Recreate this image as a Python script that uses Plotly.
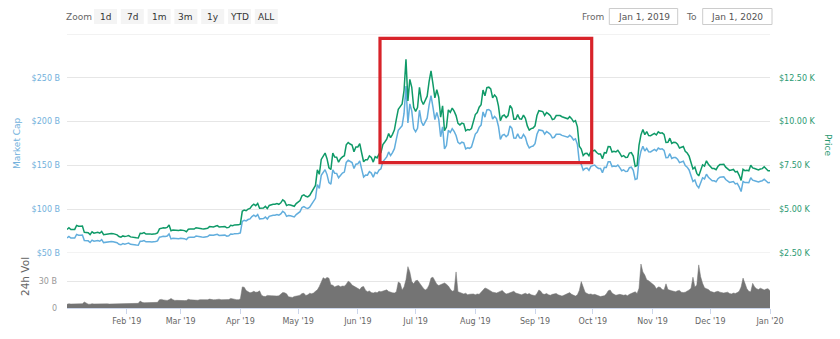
import pandas as pd
import plotly.graph_objects as go

# ---------------- data ----------------
start_date = "2019-01-01"

# BTC price, thousands of USD (daily, Jan 1 2019 .. Jan 1 2020)
price_k = [
    3.843, 3.943, 3.837, 3.858, 3.845, 4.076, 4.026, 4.030, 4.035, 3.678, 3.687, 3.661, 3.552, 3.706, 3.630, 3.655,
    3.679, 3.629, 3.732, 3.546, 3.566, 3.616, 3.595, 3.617, 3.605, 3.589, 3.536, 3.437, 3.400, 3.474, 3.440,
    3.463, 3.497, 3.420, 3.411, 3.422, 3.371, 3.359, 3.625, 3.618, 3.667, 3.582, 3.602, 3.591, 3.567, 3.575, 3.601,
    3.642, 3.880, 3.907, 3.944, 3.925, 3.957, 4.100, 3.772, 3.808, 3.793, 3.803, 3.788,
    3.808, 3.809, 3.777, 3.716, 3.858, 3.867, 3.875, 3.864, 3.943, 3.916, 3.872, 3.881, 3.868, 3.875, 3.915, 4.008,
    3.982, 3.991, 4.025, 4.064, 3.989, 4.003, 4.012, 4.006, 3.939, 3.960, 4.080, 4.054, 4.104, 4.097, 4.106,
    4.143, 4.881, 4.955, 4.911, 5.004, 5.044, 5.196, 5.287, 5.201, 5.333, 5.050, 5.078, 5.069, 5.161, 5.036, 5.214,
    5.266, 5.285, 5.284, 5.322, 5.280, 5.365, 5.532, 5.448, 5.205, 5.258, 5.244, 5.221, 5.168, 5.322,
    5.394, 5.494, 5.763, 5.819, 5.737, 5.699, 5.786, 5.952, 6.171, 6.356, 7.248, 6.993, 7.842, 7.992, 8.205, 7.885,
    7.366, 7.263, 8.197, 7.978, 7.963, 7.681, 7.882, 7.988, 8.052, 8.674, 8.806, 8.720, 8.660, 8.278, 8.555,
    8.554, 8.742, 8.208, 7.708, 7.825, 7.822, 8.043, 7.955, 7.688, 8.000, 7.928, 8.145, 8.231, 8.693, 8.839, 8.994,
    9.320, 9.082, 9.273, 9.527, 10.145, 10.702, 10.855, 11.011, 11.790, 13.550, 11.182, 12.407, 11.960, 10.818,
    10.583, 10.802, 11.961, 11.215, 10.978, 11.208, 11.451, 12.285, 12.900, 12.157, 11.358, 11.815, 11.392, 10.256,
    10.895, 9.477, 9.693, 10.666, 10.530, 10.767, 10.599, 10.343, 9.900, 9.811, 9.911, 9.870, 9.477, 9.552, 9.519,
    9.607, 10.085,
    10.400, 10.519, 10.821, 10.970, 11.805, 11.478, 11.941, 11.966, 11.863, 11.354, 11.523, 11.382, 10.895, 10.051,
    10.311, 10.374, 10.231, 10.345, 10.918, 10.764, 10.138, 10.131, 10.407, 10.160, 10.139, 10.370, 10.185, 9.754,
    9.510, 9.599, 9.630,
    9.757, 10.347, 10.624, 10.594, 10.575, 10.353, 10.517, 10.441, 10.334, 10.116, 10.157, 10.346, 10.358, 10.347,
    10.277, 10.241, 10.199, 10.160, 10.280, 10.171, 9.988, 10.054, 9.702, 8.590, 8.431, 8.063, 8.178, 8.192, 8.054,
    8.307,
    8.324, 8.365, 8.232, 8.147, 8.148, 7.883, 8.226, 8.208, 8.573, 8.571, 8.268, 8.305, 8.270, 8.364, 8.196, 8.005,
    8.062, 7.956, 7.964, 8.205, 8.230, 8.031, 7.446, 7.495, 8.661, 9.244, 9.552, 9.256, 9.428, 9.206, 9.199,
    9.261, 9.324, 9.235, 9.412, 9.342, 9.360, 9.267, 8.804, 8.813, 9.055, 8.757, 8.815, 8.808, 8.708, 8.491, 8.550,
    8.577, 8.309, 8.206, 8.027, 7.642, 7.296, 7.397, 7.047, 6.900, 7.219, 7.531, 7.463, 7.761, 7.569,
    7.424, 7.321, 7.320, 7.252, 7.448, 7.547, 7.556, 7.564, 7.400, 7.278, 7.217, 7.243, 7.269, 7.124, 7.152, 6.932,
    6.640, 7.276, 7.202, 7.218, 7.191, 7.511, 7.355, 7.322, 7.275, 7.238, 7.290, 7.317, 7.422, 7.293, 7.193,
    7.200,
]

# Market cap, billions of USD
market_cap_b = [
    67.1, 68.8, 67.0, 67.4, 67.1, 71.2, 70.3, 70.4, 70.5, 64.2, 64.4, 63.9, 62.0, 64.7, 63.4, 63.8,
    64.2, 63.4, 65.2, 61.9, 62.3, 63.1, 62.8, 63.2, 62.9, 62.7, 61.7, 60.0, 59.4, 60.7, 60.1,
    60.7, 61.3, 59.9, 59.8, 60.0, 59.1, 58.9, 63.5, 63.4, 64.2, 62.8, 63.1, 62.9, 62.5, 62.6, 63.1,
    63.8, 68.0, 68.5, 69.1, 68.8, 69.3, 71.8, 66.1, 66.7, 66.5, 66.6, 66.4,
    66.9, 67.0, 66.4, 65.3, 67.8, 68.0, 68.1, 67.9, 69.3, 68.8, 68.1, 68.2, 68.0, 68.1, 68.8, 70.5,
    70.0, 70.2, 70.8, 71.4, 70.1, 70.4, 70.5, 70.4, 69.2, 69.6, 71.7, 71.3, 72.1, 72.0, 72.2,
    73.0, 86.1, 87.4, 86.6, 88.2, 88.9, 91.6, 93.2, 91.7, 94.0, 89.0, 89.5, 89.4, 91.0, 88.8, 91.9,
    92.8, 93.2, 93.2, 93.8, 93.1, 94.6, 97.5, 96.0, 91.8, 92.7, 92.5, 92.0, 91.1, 93.8,
    95.4, 97.2, 101.9, 102.9, 101.5, 100.8, 102.4, 105.3, 109.2, 112.4, 128.2, 123.7, 138.7, 141.4, 145.1, 139.5,
    130.3, 128.5, 145.0, 141.1, 140.9, 135.9, 139.4, 141.3, 142.4, 153.4, 155.8, 154.3, 153.2, 146.4, 151.3,
    151.8, 155.2, 145.7, 136.8, 138.9, 138.8, 142.8, 141.2, 136.5, 142.0, 140.7, 144.6, 146.1, 154.3, 156.9, 159.6,
    165.4, 161.2, 164.6, 169.1, 180.1, 190.0, 192.7, 195.4, 209.3, 240.5, 198.5, 220.2, 212.3, 192.0,
    188.5, 192.4, 213.0, 199.7, 195.5, 199.6, 203.9, 218.8, 229.7, 216.5, 202.3, 210.4, 202.9, 182.7,
    194.0, 168.8, 172.6, 190.0, 187.5, 191.8, 188.8, 184.2, 176.3, 174.7, 176.5, 175.8, 168.8, 170.1, 169.5,
    171.1, 179.6,
    185.8, 188.0, 193.4, 196.0, 211.0, 205.1, 213.4, 213.8, 212.0, 202.9, 205.9, 203.4, 194.7, 179.6,
    184.3, 185.4, 182.8, 184.9, 195.1, 192.4, 181.2, 181.0, 186.0, 181.6, 181.2, 185.3, 182.0, 174.3,
    169.9, 171.5, 172.1,
    174.9, 185.5, 190.5, 189.9, 189.6, 185.6, 188.6, 187.2, 185.3, 181.4, 182.1, 185.5, 185.7, 185.5,
    184.3, 183.6, 182.9, 182.2, 184.3, 182.4, 179.1, 180.3, 174.0, 154.0, 151.2, 144.6, 146.6, 146.9, 144.4,
    148.9,
    149.7, 150.4, 148.0, 146.5, 146.5, 141.7, 147.9, 147.6, 154.1, 154.1, 148.7, 149.3, 148.7, 150.4, 147.4, 143.9,
    145.0, 143.0, 143.2, 147.5, 148.0, 144.4, 133.9, 134.8, 155.7, 166.2, 171.7, 166.4, 169.5, 165.5, 165.4,
    167.1, 168.2, 166.6, 169.8, 168.5, 168.9, 167.2, 158.8, 159.0, 163.4, 158.0, 159.0, 158.9, 157.1, 153.2, 154.2,
    154.7, 149.9, 148.0, 144.8, 137.9, 131.6, 133.4, 127.1, 124.5, 130.2, 135.9, 134.6, 140.0, 136.5,
    134.4, 132.5, 132.5, 131.3, 134.8, 136.6, 136.8, 136.9, 133.9, 131.7, 130.6, 131.1, 131.6, 128.9, 129.5, 125.5,
    120.2, 131.7, 130.4, 130.6, 130.2, 135.9, 133.1, 132.5, 131.7, 131.0, 131.9, 132.4, 134.3, 132.0, 130.2,
    130.5,
]

# 24h volume, billions of USD
volume_b = [
    4.2, 4.8, 4.5, 4.6, 4.3, 5.0, 5.2, 4.8, 4.9, 6.8, 5.6, 4.4, 4.3, 4.9, 4.6, 4.7,
    4.6, 4.5, 4.8, 4.9, 4.4, 4.7, 4.5, 4.6, 4.4, 4.3, 4.4, 5.0, 5.1, 5.0, 4.9,
    5.0, 5.2, 5.0, 5.1, 5.2, 5.6, 5.3, 7.9, 6.4, 6.0, 6.1, 6.0, 6.1, 6.0, 6.2, 6.3,
    6.4, 9.4, 9.8, 9.2, 8.9, 8.6, 9.4, 10.9, 9.5, 8.6, 8.7, 8.5,
    8.6, 8.1, 8.4, 8.6, 9.9, 9.3, 9.0, 9.3, 8.9, 8.8, 9.5, 9.4, 9.2, 9.0, 9.4, 10.1,
    9.6, 9.3, 9.5, 9.9, 10.0, 9.4, 9.3, 9.2, 9.9, 9.6, 10.9, 10.2, 9.9, 9.5, 9.4,
    10.2, 24.0, 23.6, 20.0, 18.5, 17.2, 17.8, 19.0, 17.9, 18.2, 19.5, 14.5, 13.3, 13.0, 14.3, 13.8,
    14.0, 13.8, 13.5, 13.6, 13.9, 15.6, 17.6, 17.3, 16.1, 12.8, 12.4, 12.0, 13.1, 13.2,
    13.9, 14.6, 16.4, 16.8, 14.2, 15.0, 16.8, 16.2, 17.0, 19.0, 20.6, 24.5, 30.5, 34.5, 33.0, 34.8,
    33.9, 26.5, 25.8, 24.0, 25.0, 25.5, 24.2, 25.0, 24.8, 27.0, 30.5, 29.0, 26.0, 24.5, 24.0,
    22.5, 21.0, 23.8, 24.5, 20.2, 18.5, 19.4, 17.5, 17.0, 18.0, 17.3, 19.0, 18.5, 19.5, 20.0, 20.6,
    18.8, 17.6, 17.3, 17.0, 18.5, 29.5, 28.0, 20.5, 24.0, 32.0, 47.0, 41.0, 30.0, 27.5,
    31.0, 31.5, 28.0, 25.0, 22.5, 20.5, 22.0, 26.0, 34.0, 35.0, 30.0, 27.0, 25.5, 26.5, 28.0, 28.5,
    27.0, 25.0, 21.5, 19.0, 20.0, 41.0, 18.5, 17.5, 16.5, 16.0, 16.8, 15.0, 15.6, 16.2, 16.0,
    15.0, 16.0, 15.5, 18.0, 21.5, 22.8, 22.0, 20.5, 19.8, 18.0, 17.5, 17.0, 18.0, 19.5, 20.0, 17.5,
    16.0, 16.5, 17.5, 18.5, 19.0, 17.0, 16.5, 15.2, 15.0, 16.0, 16.8, 15.5, 16.5, 15.0, 14.5,
    14.0, 16.5, 20.5, 19.0, 16.0, 15.5, 16.5, 15.0, 14.5, 15.5, 16.0, 16.5, 15.0, 14.0, 13.5, 14.5,
    15.5, 16.0, 17.5, 15.5, 14.0, 13.5, 15.0, 20.0, 30.0, 22.5, 18.0, 16.5, 15.5, 16.0,
    15.0, 15.5, 14.5, 13.5, 13.0, 13.5, 14.0, 16.0, 19.5, 20.5, 17.0, 15.5, 14.5, 15.0, 15.5, 15.0,
    14.5, 15.0, 14.0, 15.5, 16.5, 17.0, 18.5, 16.5, 22.5, 50.0, 41.0, 37.5, 32.0, 31.0, 29.0,
    28.0, 25.5, 22.0, 24.0, 23.5, 21.0, 20.5, 27.5, 21.0, 20.0, 19.5, 19.0, 18.5, 19.5, 20.0, 18.0,
    17.5, 18.0, 19.0, 20.5, 22.5, 35.0, 24.0, 26.0, 49.0, 35.5, 28.0, 23.0, 22.0, 21.0,
    19.0, 18.0, 17.5, 18.5, 19.0, 18.0, 17.5, 17.0, 17.5, 18.0, 16.5, 16.0, 17.0, 16.5, 17.5, 19.0,
    24.0, 34.0, 28.0, 22.0, 19.0, 18.5, 28.0, 24.0, 22.0, 21.0, 22.5, 21.0, 20.5, 21.5, 22.0,
    19.5,
]

month_ticks = ["2019-02-01", "2019-03-01", "2019-04-01", "2019-05-01", "2019-06-01", "2019-07-01",
               "2019-08-01", "2019-09-01", "2019-10-01", "2019-11-01", "2019-12-01", "2020-01-01"]
month_labels = ["Feb '19", "Mar '19", "Apr '19", "May '19", "Jun '19", "Jul '19",
                "Aug '19", "Sep '19", "Oct '19", "Nov '19", "Dec '19", "Jan '20"]

cap_ticks = [50, 100, 150, 200, 250, 300]
cap_labels = ["$50 B", "$100 B", "$150 B", "$200 B", "$250 B", ""]
price_ticks = [2.5, 5, 7.5, 10, 12.5]
price_labels = ["$2.50 K", "$5.00 K", "$7.50 K", "$10.00 K", "$12.50 K"]
vol_ticks = [0, 30]
vol_labels = ["0", "30 B"]

zoom_buttons = ["1d", "7d", "1m", "3m", "1y", "YTD", "ALL"]
date_from, date_to = "Jan 1, 2019", "Jan 1, 2020"

assert len(price_k) == len(market_cap_b) == len(volume_b) == 366, (len(price_k), len(market_cap_b), len(volume_b))
dates = pd.date_range(start_date, periods=len(price_k), freq="D")

# ---------------- layout helpers ----------------
W, H = 840, 339
ML, MR, MT, MB = 67, 70, 34, 31
PW, PH = W - ML - MR, H - MT - MB


def fx(px):
    return (px - ML) / PW


def fy(py):
    return (H - MB - py) / PH


split = fy(253)
FONT = "DejaVu Sans"
BLUE = "#62aedd"
BLUE_TXT = "#72b1dc"
GREEN = "#0f9a68"
GREEN_TXT = "#2a9a72"
GRAY = "#747474"
GRID = "#e6e6e6"

fig = go.Figure()
fig.add_trace(go.Scatter(x=dates, y=market_cap_b, mode="lines", yaxis="y",
                         line=dict(color=BLUE, width=1.5), name="Market Cap"))
fig.add_trace(go.Scatter(x=dates, y=price_k, mode="lines", yaxis="y2",
                         line=dict(color=GREEN, width=1.5), name="Price"))
fig.add_trace(go.Scatter(x=dates, y=volume_b, mode="lines", yaxis="y3", fill="tozeroy",
                         fillcolor=GRAY, line=dict(color=GRAY, width=0.5), name="24h Vol"))

fig.update_layout(
    width=W, height=H,
    margin=dict(l=ML, r=MR, t=MT, b=MB, autoexpand=False),
    paper_bgcolor="white", plot_bgcolor="white",
    showlegend=False,
    font=dict(family=FONT, size=8, color="#666666"),
    xaxis=dict(domain=[0, 1], anchor="y3", range=[dates[0], dates[-1]],
               tickvals=month_ticks, ticktext=month_labels,
               ticks="outside", ticklen=5, tickcolor="#ccd6eb", tickwidth=1,
               showgrid=False, showline=True, linecolor="#ccd6eb", zeroline=False,
               tickfont=dict(size=8, color="#666666")),
    yaxis=dict(domain=[split, 1], anchor="x", range=[50, 300],
               tickvals=cap_ticks, ticktext=cap_labels,
               gridcolor=GRID, zeroline=False, showline=False,
               ticklabelstandoff=6, tickfont=dict(size=8, color=BLUE_TXT)),
    yaxis2=dict(overlaying="y", side="right", anchor="x", range=[2.5, 15],
                tickvals=price_ticks, ticktext=price_labels,
                showgrid=False, zeroline=False, showline=False,
                ticklabelstandoff=8, tickfont=dict(size=8, color=GREEN_TXT)),
    yaxis3=dict(domain=[0, split], anchor="x", range=[0, 62.5],
                tickvals=vol_ticks, ticktext=vol_labels,
                gridcolor=GRID, zeroline=False, showline=False,
                ticklabelstandoff=9, tickfont=dict(size=8, color="#999999")),
)

shapes = []
annots = []

# edge gridlines of the upper panel (top line and the panel divider)
for gy in (300, 50):
    shapes.append(dict(type="line", xref="paper", yref="y", x0=0, x1=1, y0=gy, y1=gy,
                       line=dict(color=GRID, width=1), layer="below"))

# highlight box
shapes.append(dict(type="rect", xref="paper", yref="paper",
                   x0=fx(380), x1=fx(591.7), y0=fy(162.7), y1=fy(38.3),
                   line=dict(color="#d8232a", width=3.2), fillcolor="rgba(0,0,0,0)", layer="above"))

# zoom buttons
annots.append(dict(text="Zoom", x=fx(78.7), y=fy(16.5), xref="paper", yref="paper",
                   showarrow=False, font=dict(size=9, color="#666666"), xanchor="center", yanchor="middle"))
for i, lab in enumerate(zoom_buttons):
    cx = 105.5 + i * 26.8
    shapes.append(dict(type="rect", xref="paper", yref="paper",
                       x0=fx(cx - 11.5), x1=fx(cx + 11.5), y0=fy(24), y1=fy(9),
                       fillcolor="#f4f4f4", line=dict(width=0), layer="below"))
    annots.append(dict(text=lab, x=fx(cx), y=fy(16.5), xref="paper", yref="paper",
                       showarrow=False, font=dict(size=9, color="#333333"),
                       xanchor="center", yanchor="middle"))

# date inputs
annots.append(dict(text="From", x=fx(593), y=fy(16.5), xref="paper", yref="paper", showarrow=False,
                   font=dict(size=9, color="#666666"), xanchor="center", yanchor="middle"))
annots.append(dict(text="To", x=fx(691.7), y=fy(16.5), xref="paper", yref="paper", showarrow=False,
                   font=dict(size=9, color="#666666"), xanchor="center", yanchor="middle"))
for (x0, x1, lab) in [(609.3, 677.7, date_from), (702.7, 772, date_to)]:
    shapes.append(dict(type="rect", xref="paper", yref="paper",
                       x0=fx(x0), x1=fx(x1), y0=fy(24.5), y1=fy(8.5),
                       fillcolor="white", line=dict(color="#cccccc", width=1)))
    annots.append(dict(text=lab, x=fx((x0 + x1) / 2), y=fy(16.5), xref="paper", yref="paper",
                       showarrow=False, font=dict(size=9, color="#555555"),
                       xanchor="center", yanchor="middle"))

# axis titles
annots.append(dict(text="Market Cap", x=fx(17), y=fy(143), xref="paper", yref="paper", showarrow=False,
                   textangle=-90, font=dict(size=9, color=BLUE_TXT), xanchor="center", yanchor="middle"))
annots.append(dict(text="Price", x=fx(828), y=fy(145), xref="paper", yref="paper", showarrow=False,
                   textangle=90, font=dict(size=9, color=GREEN_TXT), xanchor="center", yanchor="middle"))
annots.append(dict(text="24h Vol", x=fx(25), y=fy(277), xref="paper", yref="paper", showarrow=False,
                   textangle=-90, font=dict(size=10.5, color="#666666"), xanchor="center", yanchor="middle"))

fig.update_layout(shapes=shapes, annotations=annots)
fig.write_html("out.html")
